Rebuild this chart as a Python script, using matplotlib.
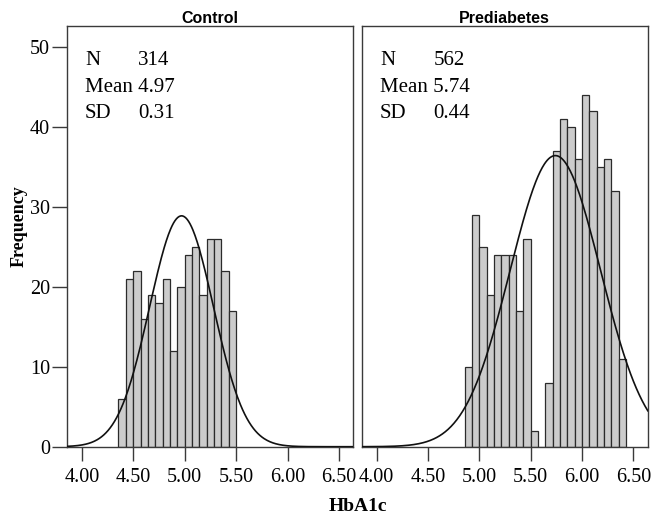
import numpy as np
import matplotlib
matplotlib.use('Agg')
import matplotlib.pyplot as plt

plt.rcParams['font.family'] = 'serif'
plt.rcParams['font.serif'] = ['Liberation Serif', 'DejaVu Serif']

# ── Data ──
BIN_WIDTH = 0.5 / 7
control_start = 4.5 - 2 * BIN_WIDTH
control_counts = [6, 21, 22, 16, 19, 18, 21, 12, 20, 24, 25, 19, 26, 26, 22, 17]
control_n, control_mean, control_sd = 314, 4.97, 0.31

prediab_start = 5.0 - 2 * BIN_WIDTH
prediab_counts = [10, 29, 25, 19, 24, 24, 24, 17, 26, 2, 0, 8,
                  37, 41, 40, 36, 44, 42, 35, 36, 32, 11]
prediab_n, prediab_mean, prediab_sd = 562, 5.74, 0.44

xticks = [4.0, 4.5, 5.0, 5.5, 6.0, 6.5]
yticks = [0, 10, 20, 30, 40, 50]

BAR_FILL = '#cccccc'
EDGE = '#2b2b2b'
FRAME = '#3a3a3a'

fig = plt.figure(figsize=(6.51, 5.24), dpi=100)
ax_l = fig.add_axes([0.1025, 0.1475, 0.4402, 0.8029])
ax_r = fig.add_axes([0.5556, 0.1475, 0.4393, 0.8029])


def panel(ax, title, start, counts, n, mean, sd, show_y):
    edges = start + BIN_WIDTH * np.arange(len(counts))
    ax.bar(edges, counts, width=BIN_WIDTH, align='edge', color=BAR_FILL,
           edgecolor=EDGE, linewidth=0.9, zorder=2)
    xs = np.linspace(3.85, 6.64, 400)
    ys = n * BIN_WIDTH / (sd * np.sqrt(2 * np.pi)) * np.exp(-0.5 * ((xs - mean) / sd) ** 2)
    ax.plot(xs, ys, color='#111111', linewidth=1.2, zorder=3)

    ax.set_xlim(3.854, 6.639)
    ax.set_ylim(0, 52.6)
    ax.set_xticks(xticks)
    ax.set_xticklabels([f'{t:.2f}' for t in xticks], fontsize=14.5)
    for s in ax.spines.values():
        s.set_color(FRAME)
        s.set_linewidth(1.0)
    ax.tick_params(axis='x', direction='out', length=10, width=1.0,
                   color=FRAME, pad=5)
    if show_y:
        ax.set_yticks(yticks)
        ax.set_yticklabels([str(t) for t in yticks], fontsize=14.5)
        ax.tick_params(axis='y', direction='out', length=11, width=1.0,
                       color=FRAME, pad=1)
    else:
        ax.set_yticks([])

    ax.set_title(title, fontsize=11.5, fontweight='bold', family='Liberation Sans',
                 pad=2.5)

    lab_x, val_x = 0.064, 0.25
    rows = [(0.907, 'N', f'{n}'), (0.781, 'SD', f'{sd:.2f}')]
    for y, lab, val in rows:
        ax.text(lab_x, y, lab, transform=ax.transAxes, fontsize=15, va='baseline')
        ax.text(val_x, y, val, transform=ax.transAxes, fontsize=15, va='baseline')
    ax.text(lab_x, 0.844, f'Mean {mean:.2f}', transform=ax.transAxes,
            fontsize=15, va='baseline')


panel(ax_l, 'Control', control_start, control_counts,
      control_n, control_mean, control_sd, True)
panel(ax_r, 'Prediabetes', prediab_start, prediab_counts,
      prediab_n, prediab_mean, prediab_sd, False)

fig.text(0.03, 0.569, 'Frequency', rotation=90, ha='center', va='center',
         fontsize=13, fontweight='bold')
fig.text(0.55, 0.024, 'HbA1c', ha='center', va='baseline',
         fontsize=14, fontweight='bold')

fig.savefig('out.png', dpi=100)
